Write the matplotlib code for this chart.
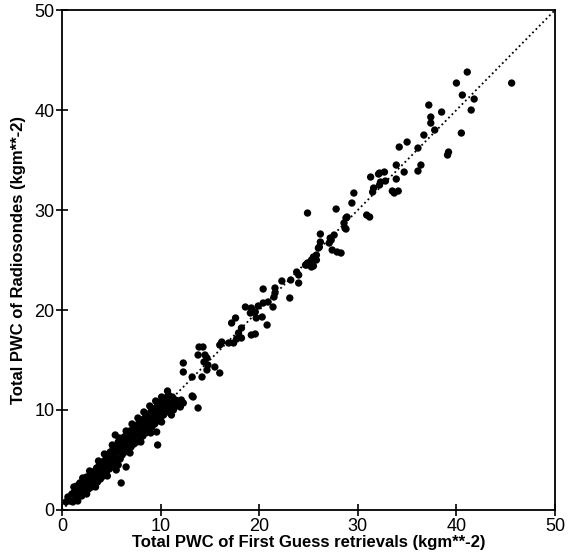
import numpy as np
import matplotlib
matplotlib.use("Agg")
from matplotlib import pyplot as plt

# dense low-value cluster (first guess, radiosonde)
x_low = [0.4, 0.6, 0.8, 1.0, 1.1, 1.3, 1.4, 1.5, 1.7, 1.8, 1.9, 2.0, 2.2, 2.3, 2.4, 2.5,
         2.6, 2.7, 2.9, 3.0, 3.0, 3.2, 3.3, 3.3, 3.5, 3.6, 3.6, 3.8, 3.9, 3.9, 4.1, 4.1,
         4.2, 4.4, 4.4, 4.5, 4.6, 4.7, 4.8, 4.9, 5.0, 5.0, 5.2, 5.3, 5.3, 5.5, 5.5, 5.6,
         5.7, 5.8, 5.9, 6.0, 6.1, 6.1, 6.3, 6.4, 6.4, 6.6, 6.7, 6.7, 6.9, 7.0, 7.0, 7.2,
         7.3, 7.3, 7.5, 7.6, 7.6, 7.8, 7.9, 7.9, 8.1, 8.2, 8.2, 8.4, 8.5, 8.5, 8.7, 8.8,
         8.8, 9.0, 9.1, 9.1, 9.3, 9.4, 9.4, 9.6, 9.7, 9.7, 9.9, 10.0, 10.0, 10.2, 10.3,
         10.3, 10.5, 10.6, 10.6, 10.8, 10.9, 11.0, 11.2, 11.3, 11.5, 11.6, 11.8,
         2.0, 3.4, 4.0, 4.8, 5.4, 6.2, 6.8, 7.4, 8.0, 8.6, 9.2, 9.8, 10.4, 11.0,
         1.2, 2.1, 2.8, 3.7, 4.3, 5.1, 5.8, 6.5, 7.1, 7.7, 8.3, 8.9, 9.5, 10.1, 10.7,
         1.6, 2.5, 3.4, 4.6, 5.7, 6.9, 8.0, 9.0, 10.1, 11.3, 12.0]
y_low = [0.8, 1.3, 0.9, 1.6, 0.8, 1.9, 1.2, 2.4, 1.5, 2.7, 2.0, 1.4, 2.9, 2.2, 1.8, 3.3,
         2.7, 2.1, 3.5, 2.9, 2.3, 3.8, 3.2, 2.6, 4.2, 3.5, 2.8, 4.5, 3.8, 3.1, 4.8, 4.2,
         3.4, 5.0, 4.4, 3.7, 5.5, 4.6, 4.1, 5.8, 5.1, 4.3, 6.2, 5.4, 4.6, 6.4, 5.7, 4.9,
         6.8, 6.0, 5.1, 7.1, 6.3, 5.5, 7.3, 6.6, 5.8, 7.6, 6.9, 6.0, 7.9, 7.1, 6.3, 8.1,
         7.4, 6.6, 8.4, 7.7, 6.8, 8.7, 8.0, 7.1, 9.0, 8.3, 7.4, 9.2, 8.6, 7.7, 9.5, 8.9,
         8.0, 9.8, 9.2, 8.3, 10.1, 9.5, 8.6, 10.3, 9.7, 8.9, 10.6, 10.0, 9.2, 10.9, 10.3,
         9.5, 11.2, 10.5, 9.8, 11.5, 10.8, 10.1, 11.3, 10.6, 11.0, 10.4, 10.9,
         2.5, 3.9, 4.4, 5.2, 5.9, 6.9, 7.4, 7.8, 8.4, 9.1, 9.6, 10.0, 10.8, 11.0,
         2.3, 3.2, 3.9, 4.9, 5.6, 6.5, 7.2, 7.9, 8.6, 9.2, 9.8, 10.4, 10.9, 11.3, 11.9,
         0.9, 1.6, 2.3, 3.4, 4.5, 5.7, 6.8, 7.7, 8.8, 10.0, 10.3]

# outliers near the cluster and the sparser upper range
x_high = [5.4, 9.6, 9.7, 5.5, 6.5, 6.0, 11.1, 13.2,
          12.1, 12.3, 13.8, 13.3, 13.2, 14.2, 12.3, 12.3, 14.8, 14.7, 15.5, 16.0,
          13.8, 14.5, 14.7, 14.4, 13.9, 14.3, 16.2, 16.0, 16.9, 17.4, 17.7, 18.2,
          17.9, 19.2, 19.6, 18.2, 20.8, 17.6, 17.2, 19.7, 20.3, 19.1, 19.6, 18.6,
          19.2, 19.9, 20.4, 20.9, 21.4, 20.4, 23.1, 21.6, 21.6, 21.5, 22.3, 23.2,
          24.0, 23.8, 24.0, 24.7, 24.9, 25.3, 25.5, 24.8, 25.5, 25.3, 25.8, 25.8,
          26.1, 26.2, 27.1, 26.0, 27.3, 27.4, 27.9, 28.3, 26.2, 27.6, 27.2, 28.8,
          28.7, 28.6, 28.8, 28.9, 24.9, 27.8, 30.9, 31.2, 29.4, 29.6, 31.5, 31.3,
          31.6, 32.2, 32.7, 32.3, 32.8, 33.9, 34.7, 33.9, 33.5, 34.1, 34.2, 35.0,
          36.1, 36.4, 36.1, 36.7, 37.8, 37.4, 41.1, 40.0, 45.6, 40.6, 41.8, 37.2,
          38.5, 41.5, 37.4, 40.5, 39.2, 39.1, 32.1, 32.2, 33.7]
y_high = [7.5, 7.8, 6.5, 4.0, 4.3, 2.7, 9.5, 11.4,
          11.0, 10.7, 10.2, 11.3, 13.3, 13.3, 14.7, 13.8, 14.5, 14.0, 14.3, 13.7,
          15.5, 15.5, 15.2, 14.8, 16.3, 16.3, 16.8, 16.5, 16.7, 16.7, 17.1, 17.2,
          17.7, 17.5, 17.6, 18.2, 18.5, 19.2, 18.7, 19.2, 19.3, 19.7, 19.8, 20.3,
          20.2, 20.4, 20.7, 20.8, 20.3, 22.1, 21.2, 22.2, 21.7, 21.3, 22.9, 23.0,
          22.7, 23.8, 23.5, 24.5, 24.7, 24.3, 24.4, 24.5, 25.3, 25.0, 25.0, 25.5,
          26.3, 26.8, 26.7, 26.2, 27.0, 26.0, 25.8, 25.7, 27.6, 27.5, 27.2, 28.1,
          28.2, 28.7, 29.2, 29.3, 29.7, 30.1, 29.5, 29.3, 30.7, 31.7, 31.8, 33.3,
          32.2, 33.7, 33.8, 32.8, 32.9, 34.5, 33.8, 33.1, 31.9, 31.9, 36.3, 36.8,
          36.2, 34.5, 33.9, 37.5, 38.0, 38.7, 43.8, 42.7, 42.7, 41.5, 41.1, 40.5,
          39.8, 40.0, 39.3, 37.7, 35.8, 35.5, 33.6, 32.5, 31.7]

x = x_low + x_high
y = y_low + y_high

fig = plt.figure(figsize=(5.71, 5.59), dpi=100)
ax = fig.add_axes([0.1086, 0.0877, 0.8634, 0.8943])

ax.plot([0, 50], [0, 50], color='black', linestyle=':', linewidth=1.3)
ax.scatter(x, y, s=28, color='black', edgecolors='none', zorder=3)

ax.set_xlim(0, 50)
ax.set_ylim(0, 50)
ax.set_xticks([0, 10, 20, 30, 40, 50])
ax.set_yticks([0, 10, 20, 30, 40, 50])
ax.tick_params(direction='inout', length=9, width=1.2, labelsize=13, pad=1)
for lab in ax.get_xticklabels() + ax.get_yticklabels():
    lab.set_family('Liberation Sans')
for sp in ax.spines.values():
    sp.set_linewidth(1.3)

ax.set_xlabel('Total PWC of First Guess retrievals (kgm**-2)', fontsize=12,
              fontweight='bold', family='Liberation Sans', labelpad=0)
ax.set_ylabel('Total PWC of Radiosondes (kgm**-2)', fontsize=12,
              fontweight='bold', family='Liberation Sans', labelpad=6)

fig.savefig('out.png', dpi=100)
